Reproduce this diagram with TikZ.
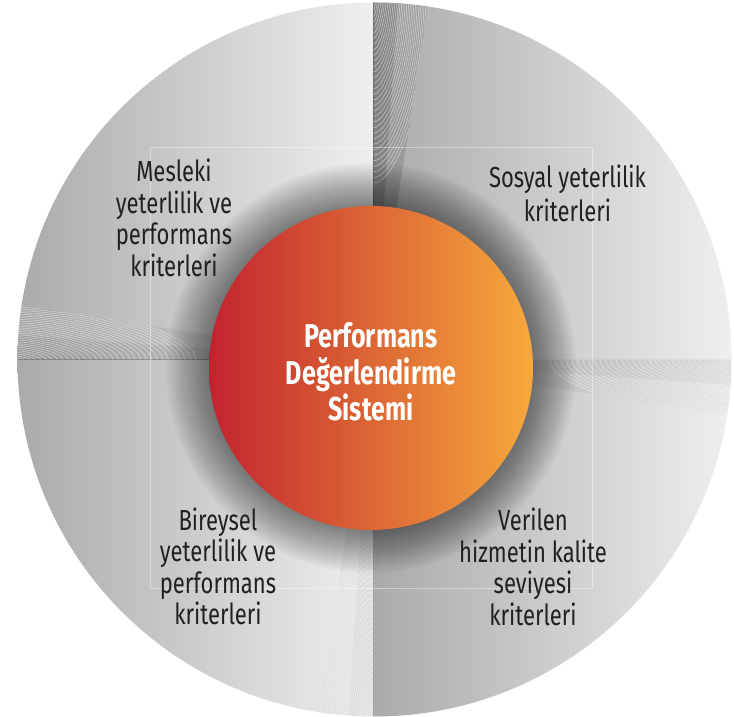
\documentclass[tikz,border=0pt]{standalone}
\usepackage{fontspec}
\newfontfamily\labfont[FakeStretch=0.76]{Fira Sans}
\definecolor{gdark}{HTML}{A9AAAC}
\definecolor{glight}{HTML}{EEEFEF}
\definecolor{txt}{HTML}{231F20}
\definecolor{cred}{HTML}{C1232E}
\definecolor{cmid}{HTML}{DA5A32}
\definecolor{corange}{HTML}{F7A93B}
\begin{document}
\begin{tikzpicture}[x=1pt,y=1pt,
  lab/.style={font=\labfont\fontsize{29}{31.5}\selectfont, text=txt, align=center, inner sep=0pt},
  ctr/.style={font=\labfont\bfseries\fontsize{33}{36.5}\selectfont, text=white, align=center, inner sep=0pt},
  moire/.style={white, opacity=0.45, line width=0.7pt},
  faint/.style={white, opacity=0.4, line width=0.6pt}]
\useasboundingbox (0,0) rectangle (734,717);
\coordinate (O) at (373,357);
\coordinate (C) at (374.5,357.5);
\begin{scope}
  \clip (C) circle (357);
  % four quadrants
  \shade[left color=gdark, right color=glight] (17,357) rectangle (373,717);
  \shade[left color=gdark, right color=glight] (373,357) rectangle (732,717);
  \shade[left color=gdark, right color=glight] (17,0) rectangle (373,357);
  \shade[left color=gdark, right color=glight] (373,0) rectangle (732,357);
  % pinwheel strips
  \foreach \rot/\op in {0/0.12, -90/0.04, -180/0.03, -270/0.05} {
    \begin{scope}[shift={(O)}, rotate=\rot]
      \clip (0,0) -- (90:380) -- (81.2:380) -- cycle;
      \fill[black, opacity=\op] (0,0) -- (90:380) -- (81.2:380) -- cycle;
      \fill[black, opacity=\op] (0,0) -- (90:380) -- (86:380) -- cycle;
      \foreach \t in {0.03,0.06,...,1.0} {
        \pgfmathsetmacro\a{90-8.8*\t}
        \pgfmathsetmacro\sx{372*cos(\a)}
        \pgfmathsetmacro\sy{372*sin(\a)}
        \pgfmathsetmacro\d{175+185*(1-\t)}
        \pgfmathsetmacro\my{(\sy+\d)/2}
        \pgfmathsetmacro\hx{0.45*\sx}
        \draw[moire] (\sx,\sy) .. controls (\sx,\my) and (\hx,\d) .. (0,\d);
      }
      \draw[black, opacity=0.2, line width=1pt] (0,0) -- (90:380);
    \end{scope}
  }
  % faint frame
  \draw[faint] (150,570) rectangle (592,129);
  % shadow of the core
  \foreach \r in {163,165,...,205} {
    \fill[black, opacity=0.022] (371,349) circle (\r);
  }
\end{scope}
\node[circle, minimum size=324pt, inner sep=0pt, left color=cred, middle color=cmid, right color=corange] (core) at (371,349) {};
\node[ctr] (title) at (371,345) {Performans\\Değerlendirme\\Sistemi};
\node[lab] (q1) at (174,499) {Mesleki\\yeterlilik ve\\performans\\kriterleri};
\node[lab, font=\labfont\fontsize{29}{34}\selectfont] (q2) at (567.5,523.5) {Sosyal yeterlilik\\kriterleri};
\node[lab] (q3) at (218,150.5) {Bireysel\\yeterlilik ve\\performans\\kriterleri};
\node[lab] (q4) at (533,150) {Verilen\\hizmetin kalite\\seviyesi\\kriterleri};
\end{tikzpicture}
\end{document}
